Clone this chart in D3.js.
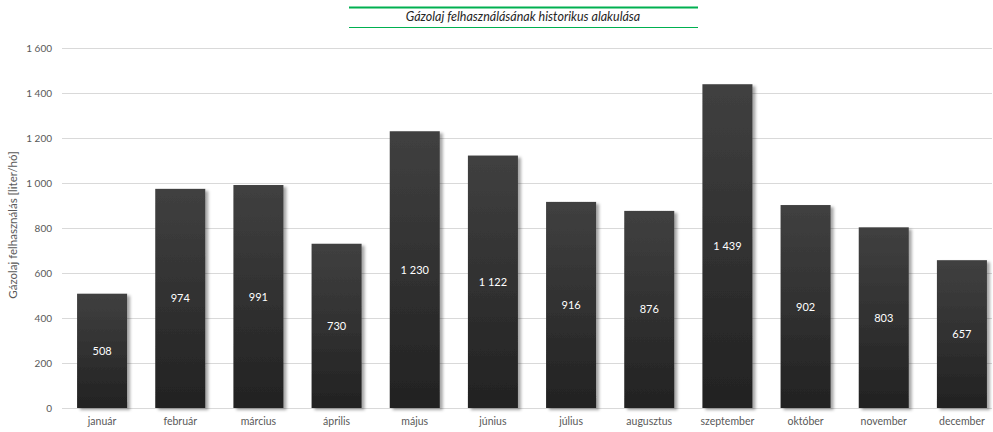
<!DOCTYPE html>
<html>
<head>
<meta charset="utf-8">
<title>Gázolaj felhasználás</title>
<script src="https://cdn.jsdelivr.net/npm/d3@7"></script>
<style>
body { margin: 0; background: #fff; font-family: Lato, "Open Sans", sans-serif; }
</style>
</head>
<body>
<svg id="chart" width="993" height="432"></svg>
<script>
var months = ["január", "február", "március", "április", "május", "június",
  "július", "augusztus", "szeptember", "október", "november", "december"];
var usage = [508, 974, 991, 730, 1230, 1122, 916, 876, 1439, 902, 803, 657];
var yTicks = [0, 200, 400, 600, 800, 1000, 1200, 1400, 1600];
var title = "Gázolaj felhasználásának historikus alakulása";
var yTitle = "Gázolaj felhasználás [liter/hó]";

var svg = d3.select("#chart");
var fmt = function(v) { return d3.format(",")(v).replace(/,/g, "\u00a0"); };

var x = d3.scaleBand().domain(months).range([63, 1001]).paddingInner(0.36).paddingOuter(0.18);
var y = d3.scaleLinear().domain([0, 1600]).range([408, 48]);

// filters
var defs = svg.append("defs");
var grad = defs.append("linearGradient").attr("id", "barGrad")
  .attr("x1", 0).attr("y1", 0).attr("x2", 0).attr("y2", 1);
grad.append("stop").attr("offset", "0%").attr("stop-color", "#404040");
grad.append("stop").attr("offset", "100%").attr("stop-color", "#222222");

var f = defs.append("filter").attr("id", "shadow")
  .attr("x", "-10%").attr("y", "-10%").attr("width", "130%").attr("height", "120%");
f.append("feDropShadow").attr("dx", 3).attr("dy", 2).attr("stdDeviation", 1.6)
  .attr("flood-color", "#000").attr("flood-opacity", 0.35);

// grid
svg.append("g").selectAll("line").data(yTicks).enter().append("line")
  .attr("x1", 62).attr("x2", 992)
  .attr("y1", function(d) { return y(d) + 0.5; })
  .attr("y2", function(d) { return y(d) + 0.5; })
  .attr("stroke", "#d9d9d9").attr("stroke-width", 1);

// y tick labels
svg.append("g").selectAll("text").data(yTicks).enter().append("text")
  .attr("x", 52).attr("y", function(d) { return y(d) + 3.5; })
  .attr("text-anchor", "end").attr("font-size", 10).attr("fill", "#595959")
  .text(fmt);

// bars
svg.append("g").selectAll("rect").data(usage).enter().append("rect")
  .attr("x", function(d, i) { return x(months[i]); })
  .attr("width", x.bandwidth())
  .attr("y", function(d) { return y(d); })
  .attr("height", function(d) { return y(0) - y(d); })
  .attr("fill", "url(#barGrad)")
  .style("filter", "url(#shadow)");

// value labels
svg.append("g").selectAll("text").data(usage).enter().append("text")
  .attr("x", function(d, i) { return x(months[i]) + x.bandwidth() / 2; })
  .attr("y", function(d) { return (y(d) + y(0)) / 2 + 4; })
  .attr("text-anchor", "middle").attr("font-size", 11).attr("fill", "#ffffff")
  .text(fmt);

// x labels
svg.append("g").selectAll("text").data(months).enter().append("text")
  .attr("x", function(d) { return x(d) + x.bandwidth() / 2; })
  .attr("y", 425)
  .attr("text-anchor", "middle").attr("font-size", 10.5).attr("fill", "#595959")
  .text(function(d) { return d; });

// y axis title
svg.append("text")
  .attr("transform", "translate(17,225) rotate(-90)")
  .attr("text-anchor", "middle").attr("font-size", 11.5).attr("fill", "#595959")
  .text(yTitle);

// title with green rules
svg.append("line").attr("x1", 349).attr("x2", 698).attr("y1", 7.5).attr("y2", 7.5)
  .attr("stroke", "#00b050").attr("stroke-width", 2);
svg.append("line").attr("x1", 349).attr("x2", 698).attr("y1", 27.5).attr("y2", 27.5)
  .attr("stroke", "#00b050").attr("stroke-width", 1);
svg.append("text").attr("x", 523).attr("y", 21)
  .attr("text-anchor", "middle").attr("font-size", 12.5).attr("font-style", "italic")
  .attr("fill", "#262626").text(title);
</script>
</body>
</html>
